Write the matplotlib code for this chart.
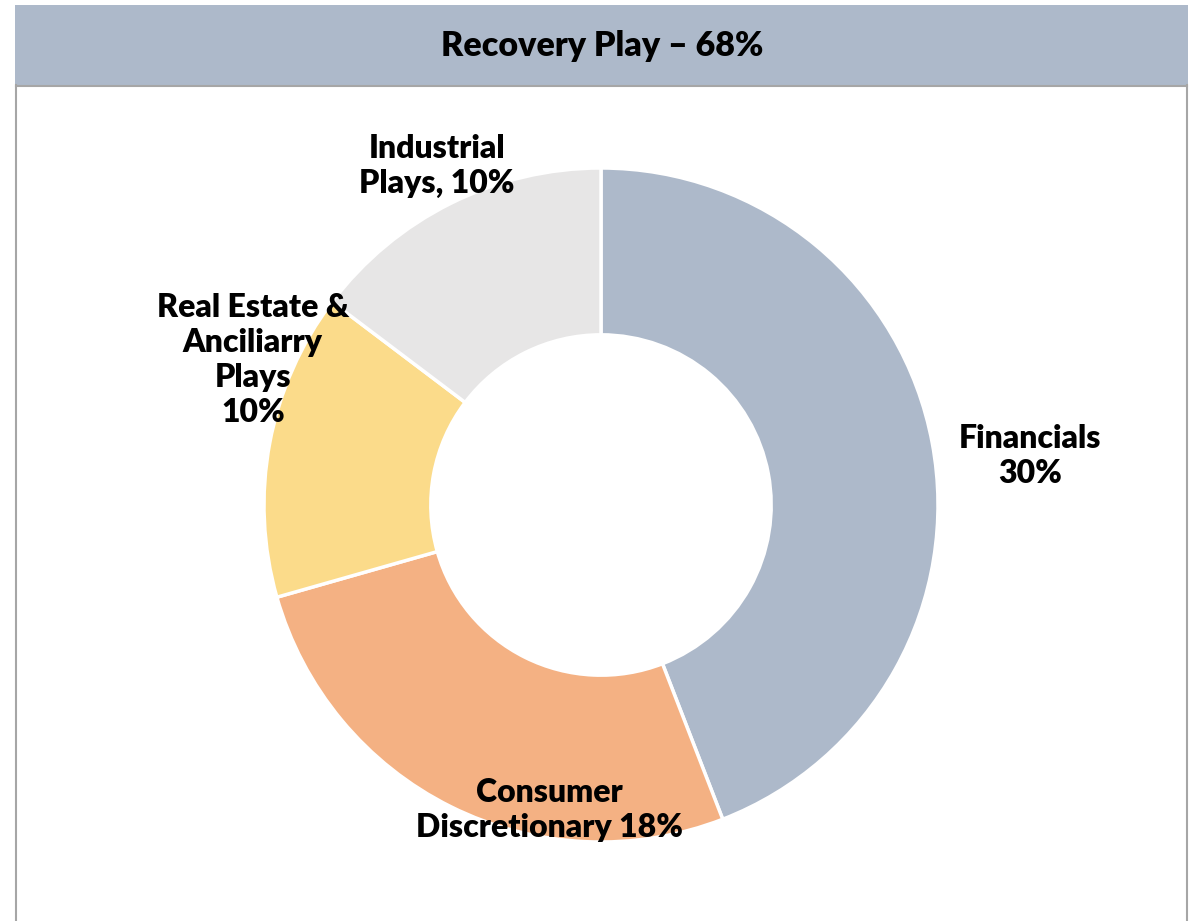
import matplotlib.pyplot as plt
from matplotlib.patches import Rectangle
from matplotlib.lines import Line2D

title = 'Recovery Play \u2013 68%'
sectors = ['Financials', 'Consumer Discretionary', 'Real Estate & Anciliarry Plays', 'Industrial Plays']
shares = [30, 18, 10, 10]
labels = ['Financials\n30%', 'Consumer\nDiscretionary 18%',
          'Real Estate &\nAnciliarry\nPlays\n10%', 'Industrial\nPlays, 10%']
colors = ['#ADB9CA', '#F4B183', '#FBDB8A', '#E7E6E6']

W, H = 1192, 921
fig = plt.figure(figsize=(W / 100, H / 100), dpi=100)
plt.rcParams['font.family'] = ['Lato', 'DejaVu Sans']

# header band and frame
fig.patches.append(Rectangle((15 / W, 1 - 85 / H), 1173 / W, 80 / H,
                             transform=fig.transFigure, facecolor='#ADB9CA',
                             edgecolor='none', zorder=0))
fig.lines.append(Line2D([16 / W, 16 / W], [0, 1 - 85 / H], transform=fig.transFigure,
                        color='#A6A6A6', linewidth=1.5))
fig.lines.append(Line2D([1187 / W, 1187 / W], [0, 1 - 85 / H], transform=fig.transFigure,
                        color='#A6A6A6', linewidth=1.5))
fig.lines.append(Line2D([16 / W, 1187 / W], [1 - 86 / H, 1 - 86 / H], transform=fig.transFigure,
                        color='#A6A6A6', linewidth=1.5))
fig.text(602 / W, 1 - 46 / H, title, ha='center', va='center',
         fontsize=24.5, fontweight='heavy', color='black')

# donut
cx, cy, R = 601, 505, 337
ax = fig.add_axes([(cx - R) / W, 1 - (cy + R) / H, 2 * R / W, 2 * R / H])
ax.pie(shares, colors=colors, startangle=90, counterclock=False,
       wedgeprops=dict(width=0.495, edgecolor='white', linewidth=2.5))
ax.set_xlim(-1, 1)
ax.set_ylim(-1, 1)
ax.axis('off')

label_pos = [(1.273, 0.145), (-0.154, -0.905), (-1.033, 0.430), (-0.487, 1.006)]
for text, (x, y) in zip(labels, label_pos):
    ax.text(x, y, text, ha='center', va='center', fontsize=23,
            fontweight='heavy', linespacing=1.25, color='black')

fig.savefig('out.png', dpi=100)
